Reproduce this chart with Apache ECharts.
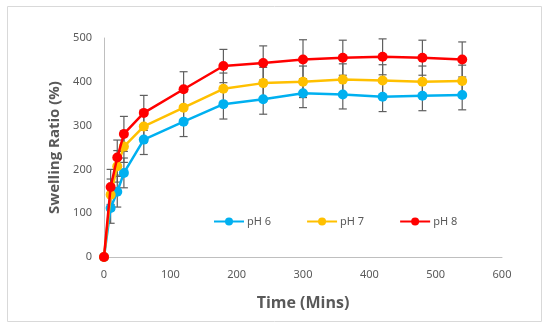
<!DOCTYPE html>
<html><head><meta charset="utf-8">
<script src="https://cdn.jsdelivr.net/npm/echarts@6/dist/echarts.min.js"></script>
<style>html,body{margin:0;padding:0;background:#fff}#c{width:550px;height:330px}</style>
</head><body><div id="c"></div>
<script>
const times = [0, 10, 20, 30, 60, 120, 180, 240, 300, 360, 420, 480, 540];
const ph6 = [0, 112, 149, 192, 268, 309, 349, 360, 374, 371, 366, 368, 370];
const ph7 = [0, 142, 207, 252, 298, 341, 384, 397, 400, 405, 403, 400, 402];
const ph8 = [0, 160, 227, 281, 329, 383, 436, 443, 451, 455, 457, 455, 451];
const err6 = [0, 35, 35, 34, 34, 34, 34, 34, 33, 33, 34, 34, 34];
const err7 = [0, 36, 36, 36, 36, 36, 36, 36, 36, 36, 36, 36, 36];
const err8 = [0, 40, 40, 40, 40, 40, 38, 39, 45, 40, 41, 40, 40];
const names = ['pH 6', 'pH 7', 'pH 8'];
const colors = ['#00B0F0', '#FFC000', '#FF0000'];
const values = [ph6, ph7, ph8];
const errs = [err6, err7, err8];

const chart = echarts.init(document.getElementById('c'));
const series = [];
values.forEach((v, i) => {
  series.push({
    type: 'custom',
    name: names[i] + ' err',
    z: 1,
    silent: true,
    data: times.map((t, k) => [t, v[k] - errs[i][k], v[k] + errs[i][k]]),
    renderItem: function (params, api) {
      const x = api.value(0);
      const lo = api.coord([x, api.value(1)]);
      const hi = api.coord([x, api.value(2)]);
      const w = 4;
      const st = { stroke: '#5f5f5f', lineWidth: 1.2 };
      return {
        type: 'group',
        children: [
          { type: 'line', shape: { x1: lo[0], y1: lo[1], x2: hi[0], y2: hi[1] }, style: st },
          { type: 'line', shape: { x1: lo[0] - w, y1: lo[1], x2: lo[0] + w, y2: lo[1] }, style: st },
          { type: 'line', shape: { x1: hi[0] - w, y1: hi[1], x2: hi[0] + w, y2: hi[1] }, style: st }
        ]
      };
    }
  });
});
values.forEach((v, i) => {
  series.push({
    type: 'line',
    name: names[i],
    z: 3 + i,
    data: times.map((t, k) => [t, v[k]]),
    symbol: 'circle',
    symbolSize: 10,
    lineStyle: { color: colors[i], width: 2.5 },
    itemStyle: { color: colors[i] }
  });
});

chart.setOption({
  animation: false,
  textStyle: { fontFamily: 'Noto Sans' },
  graphic: [{
    type: 'rect', shape: { x: 7.5, y: 6.5, width: 534, height: 315 },
    style: { fill: 'none', stroke: '#d9d9d9', lineWidth: 1 }, z: -1
  }],
  grid: { left: 104, right: 48, top: 38, bottom: 73 },
  legend: {
    data: names,
    left: 208, top: 211,
    itemGap: 35,
    itemWidth: 30, itemHeight: 10,
    textStyle: { color: '#595959', fontSize: 11, fontFamily: 'Noto Sans', padding: [0, 0, 0, -2] }
  },
  xAxis: {
    type: 'value', min: 0, max: 600, interval: 100,
    name: 'Time (Mins)', nameLocation: 'middle', nameGap: 38,
    nameTextStyle: { color: '#595959', fontSize: 16, fontWeight: 'bold', fontFamily: 'Open Sans' },
    axisLine: { lineStyle: { color: '#bfbfbf', width: 1 } },
    axisTick: { show: false },
    splitLine: { show: false },
    axisLabel: { color: '#595959', fontSize: 11, margin: 12 }
  },
  yAxis: {
    type: 'value', min: 0, max: 500, interval: 100,
    name: 'Swelling Ratio (%)', nameLocation: 'middle', nameGap: 36,
    nameTextStyle: { color: '#595959', fontSize: 15, fontWeight: 'bold', fontFamily: 'Open Sans' },
    axisLine: { show: true, lineStyle: { color: '#bfbfbf', width: 1 } },
    axisTick: { show: false },
    splitLine: { show: false },
    axisLabel: { color: '#595959', fontSize: 11, margin: 12 }
  },
  series: series
});
</script></body></html>
